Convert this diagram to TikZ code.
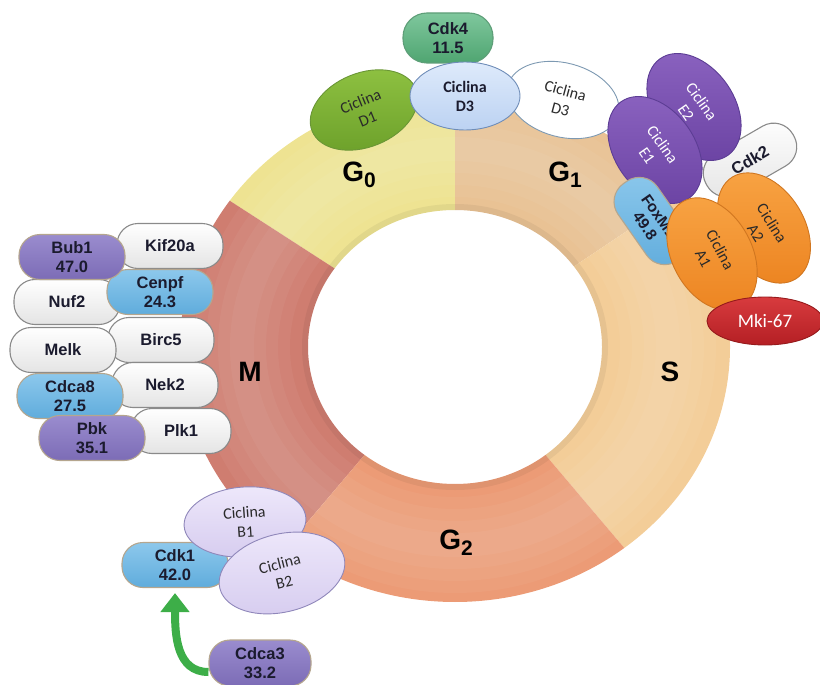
\documentclass[tikz,border=0pt]{standalone}
\usepackage{fontspec}
\setmainfont{Liberation Sans}
\newfontfamily\calib{Carlito}
\usetikzlibrary{shapes.geometric,arrows.meta,calc}

% ring segment colours
\definecolor{gzero}{HTML}{EEE392}
\definecolor{gone}{HTML}{E9C294}
\definecolor{sphase}{HTML}{F3CD98}
\definecolor{mphase}{HTML}{CF7D70}
\definecolor{gtwo}{HTML}{EC9B76}
% text
\definecolor{txtdark}{HTML}{1B1B2E}
\definecolor{txtcyc}{HTML}{2A2A2A}
% pills
\definecolor{pillgray}{HTML}{8A8A8A}
\definecolor{pilllow}{HTML}{E4E4E4}
\definecolor{pilltan}{HTML}{B5A68E}
\definecolor{blueA}{HTML}{8CC8EC}
\definecolor{blueB}{HTML}{60ACDC}
\definecolor{purpA}{HTML}{9A8CCE}
\definecolor{purpB}{HTML}{7C6CB6}
% cyclins and partners
\definecolor{cdkgA}{HTML}{7FC79D}
\definecolor{cdkgB}{HTML}{4FA571}
\definecolor{cdkgD}{HTML}{5E9E78}
\definecolor{dgreenA}{HTML}{8FC242}
\definecolor{dgreenB}{HTML}{6CA02A}
\definecolor{dgreenD}{HTML}{6A9636}
\definecolor{dblueA}{HTML}{DEEAFB}
\definecolor{dblueB}{HTML}{BCD2F2}
\definecolor{dblueD}{HTML}{6F8DB8}
\definecolor{dwhiteD}{HTML}{7D99B2}
\definecolor{epurA}{HTML}{8B63C0}
\definecolor{epurB}{HTML}{6A42A2}
\definecolor{epurD}{HTML}{5C3D94}
\definecolor{orA}{HTML}{F8A444}
\definecolor{orB}{HTML}{EC8320}
\definecolor{orD}{HTML}{D07620}
\definecolor{redA}{HTML}{D83B3E}
\definecolor{redB}{HTML}{B41F24}
\definecolor{redD}{HTML}{961A1C}
\definecolor{lavA}{HTML}{EEE8FB}
\definecolor{lavB}{HTML}{D6CCEF}
\definecolor{lavD}{HTML}{8F87BA}
\definecolor{arrowgreen}{HTML}{3DAE48}

\begin{document}
\begin{tikzpicture}[x=1pt,y=-1pt,
  pill/.style={rectangle, rounded corners=21pt, minimum width=106pt,
    minimum height=45pt, inner sep=1pt, line width=1.1pt, align=center,
    text=txtdark, font=\fontsize{16.5}{18.5}\selectfont\bfseries},
  graypill/.style={pill, draw=pillgray, top color=white, bottom color=pilllow},
  bluepill/.style={pill, draw=pilltan, top color=blueA, bottom color=blueB},
  purplepill/.style={pill, draw=pilltan, top color=purpA, bottom color=purpB},
  cyc/.style={ellipse, inner sep=0pt, align=center, line width=0.9pt,
    text=txtcyc, font=\calib\fontsize{16}{19}\selectfont},
  phase/.style={font=\fontsize{28}{28}\selectfont\bfseries, text=black},
]
\useasboundingbox (0,0) rectangle (820,685);

% ---- cell-cycle ring ----
\begin{scope}[shift={(455,347)}]
  \foreach \a/\b/\c in {90/145/gzero, 36/90/gone, 308/396/sphase,
                        145/232/mphase, 232/308/gtwo}{
    \fill[\c] (-\a:275 and 255)
      arc[start angle=-\a, end angle=-\b, x radius=275, y radius=255]
      -- (-\b:147 and 137)
      arc[start angle=-\b, end angle=-\a, x radius=147, y radius=137]
      -- cycle;
  }
  % soft tube highlight along the middle of the band
  \foreach \w in {96,72,48,24}{
    \draw[white, opacity=0.045, line width=\w pt]
      (0,0) ellipse[x radius=213, y radius=198];
  }
  % slight shade along the inner rim
  \draw[black, opacity=0.05, line width=6pt]
    (0,0) ellipse[x radius=150, y radius=140];
\end{scope}

% ---- phase labels ----
\node[phase] (lg0) at (359,175) {G\raisebox{-6pt}{\fontsize{21}{21}\selectfont 0}};
\node[phase] (lg1) at (565,175) {G\raisebox{-6pt}{\fontsize{21}{21}\selectfont 1}};
\node[phase] (ls)  at (670,372) {S};
\node[phase] (lm)  at (250,372) {M};
\node[phase] (lg2) at (456,543) {G\raisebox{-6pt}{\fontsize{21}{21}\selectfont 2}};

% ---- mitotic partners (left column) ----
\node[graypill] (kif)   at (170,246) {Kif20a};
\node[graypill] (birc)  at (161,340) {Birc5};
\node[graypill] (nek)   at (165,385) {Nek2};
\node[graypill, minimum width=100pt] (plk) at (181,431) {Plk1};
\node[graypill] (nuf)   at (67,302)  {Nuf2};
\node[graypill] (melk)  at (63,350)  {Melk};
\node[bluepill] (cenpf) at (160,292) {Cenpf\\24.3};
\node[purplepill] (bub) at (72,257)  {Bub1\\47.0};
\node[bluepill] (cdca8) at (70,396)  {Cdca8\\27.5};
\node[purplepill] (pbk) at (92,438)  {Pbk\\35.1};

% ---- G0/G1 cyclins (top) ----
\node[pill, rounded corners=24pt, minimum width=90pt, minimum height=50pt,
      draw=cdkgD, top color=cdkgA, bottom color=cdkgB] (cdk4) at (448,38) {Cdk4\\11.5};
\node[cyc, minimum width=112pt, minimum height=74pt, rotate=22,
      draw=dgreenD, top color=dgreenA, bottom color=dgreenB] (d1) at (364,110) {Ciclina\\D1};
\node[cyc, minimum width=114pt, minimum height=74pt, rotate=-15,
      draw=dwhiteD, fill=white] (d3w) at (563,100) {Ciclina\\D3};
\node[cyc, minimum width=110pt, minimum height=68pt,
      draw=dblueD, top color=dblueA, bottom color=dblueB,
      font=\calib\bfseries\fontsize{16}{19}\selectfont, text=txtdark] (d3b) at (465,96) {Ciclina\\D3};

% ---- G1/S partners (right) ----
\node[graypill, rounded corners=22pt, minimum width=100pt, minimum height=46pt, rotate=30] (cdk2) at (750,160) {Cdk2};
\node[cyc, minimum width=118pt, minimum height=80pt, rotate=-55, text=white,
      draw=epurD, top color=epurA, bottom color=epurB] (e2) at (694,107) {Ciclina\\E2};
\node[cyc, minimum width=118pt, minimum height=80pt, rotate=-55, text=white,
      draw=epurD, top color=epurA, bottom color=epurB] (e1) at (655,150) {Ciclina\\E1};
\node[bluepill, rounded corners=22pt, minimum width=94pt, minimum height=48pt, rotate=-55,
      font=\fontsize{15.5}{17}\selectfont\bfseries] (fox) at (652,221) {FoxM1\\49.8};
\node[cyc, minimum width=120pt, minimum height=80pt, rotate=-58,
      draw=orD, top color=orA, bottom color=orB] (a2) at (764,228) {Ciclina\\A2};
\node[cyc, minimum width=120pt, minimum height=80pt, rotate=-62,
      draw=orD, top color=orA, bottom color=orB] (a1) at (712,254) {Ciclina\\A1};
\node[cyc, minimum width=116pt, minimum height=48pt, text=white,
      draw=redD, top color=redA, bottom color=redB,
      font=\calib\fontsize{19}{20}\selectfont] (mki) at (765,321) {Mki-67};

% ---- G2/M partners (bottom) ----
\node[bluepill] (cdk1) at (175,565) {Cdk1\\42.0};
\node[cyc, minimum width=122pt, minimum height=70pt, rotate=4,
      draw=lavD, top color=lavA, bottom color=lavB] (b1) at (245,522) {Ciclina\\B1};
\node[cyc, minimum width=128pt, minimum height=78pt, rotate=14,
      draw=lavD, top color=lavA, bottom color=lavB] (b2) at (282,573) {Ciclina\\B2};
\node[purplepill, minimum width=102pt, minimum height=46pt] (cdca3) at (260,663) {Cdca3\\33.2};

% activation of Cdk1 by Cdca3
\draw[arrowgreen, line width=8pt, -{Triangle[width=28pt,length=19pt]}]
  ([yshift=-9pt]cdca3.west) .. controls +(-32,0) and +(0,42) .. ([yshift=-5pt]cdk1.south);
\end{tikzpicture}
\end{document}
